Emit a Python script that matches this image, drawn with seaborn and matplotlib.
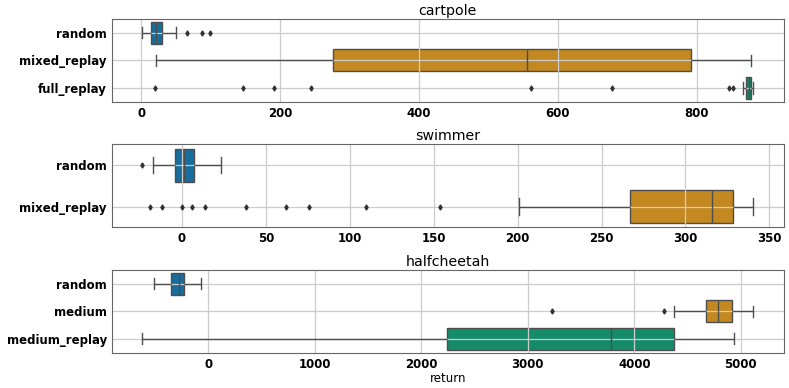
import numpy as np
import pandas as pd
import seaborn as sns
import matplotlib.pyplot as plt

# box statistics, one list per environment
cartpole_groups = ["random", "mixed_replay", "full_replay"]
cartpole_whislo = [1.4, 21.6, 867]
cartpole_q1 = [13.4, 276, 871]
cartpole_median = [21.6, 555, 875]
cartpole_q3 = [29.2, 792, 878]
cartpole_whishi = [50, 878, 882]
cartpole_fliers = [[66, 88, 99], [], [20, 147, 191, 244, 561, 678, 847, 852]]

swimmer_groups = ["random", "mixed_replay"]
swimmer_whislo = [-17.3, 201]
swimmer_q1 = [-4, 267]
swimmer_median = [1.4, 316]
swimmer_q3 = [7.5, 328.4]
swimmer_whishi = [23.4, 340.5]
swimmer_fliers = [[-23.6], [-18.9, -12.1, 0, 6.1, 13.9, 37.9, 62.3, 75.6, 109.5, 153.6]]

halfcheetah_groups = ["random", "medium", "medium_replay"]
halfcheetah_whislo = [-510, 4369, -618]
halfcheetah_q1 = [-347, 4669, 2238]
halfcheetah_median = [-275, 4788, 3785]
halfcheetah_q3 = [-228, 4916, 4376]
halfcheetah_whishi = [-63, 5119, 4935]
halfcheetah_fliers = [[], [3231, 4280], []]


def sample_from_stats(whislo, q1, med, q3, whishi, fliers):
    # build a sample whose quartiles / whiskers land on the given values
    lows = sorted([f for f in fliers if f < q1]) + [whislo]
    highs = [whishi] + sorted([f for f in fliers if f > q3])
    k = max(len(lows), len(highs)) + 1
    vals = lows + [q1] * (k - len(lows) + 1) + [med] * k + [q3] * (2 * k - len(highs)) + highs
    return vals


def make_frame(groups, whislo, q1, med, q3, whishi, fliers):
    rows = []
    for i, g in enumerate(groups):
        for v in sample_from_stats(whislo[i], q1[i], med[i], q3[i], whishi[i], fliers[i]):
            rows.append((g, v))
    return pd.DataFrame(rows, columns=["group", "return"])


envs = [
    ("cartpole", make_frame(cartpole_groups, cartpole_whislo, cartpole_q1, cartpole_median,
                            cartpole_q3, cartpole_whishi, cartpole_fliers), cartpole_groups),
    ("swimmer", make_frame(swimmer_groups, swimmer_whislo, swimmer_q1, swimmer_median,
                           swimmer_q3, swimmer_whishi, swimmer_fliers), swimmer_groups),
    ("halfcheetah", make_frame(halfcheetah_groups, halfcheetah_whislo, halfcheetah_q1, halfcheetah_median,
                               halfcheetah_q3, halfcheetah_whishi, halfcheetah_fliers), halfcheetah_groups),
]

palette = sns.color_palette("colorblind")

fig, axes = plt.subplots(3, 1, figsize=(7.89, 3.88), dpi=100)
fig.subplots_adjust(left=0.1416, right=0.9937, top=0.951, bottom=0.091, hspace=0.515)

for ax, (name, df, groups) in zip(axes, envs):
    sns.boxplot(data=df, x="return", y="group", hue="group", order=groups, hue_order=groups,
                palette=palette[:len(groups)], legend=False, orient="h", ax=ax,
                linecolor="0.3", linewidth=1.0,
                flierprops=dict(marker="d", markersize=2.6, markerfacecolor="0.2",
                                markeredgecolor="0.2"))
    # boxes under the grid, whiskers and fliers over it
    for p in ax.patches:
        p.set_zorder(1)
    ax.set_axisbelow("line")
    ax.grid(True, color="0.8", linewidth=0.9)
    ax.set_title(name, fontsize=10.2, pad=3)
    ax.set_ylabel("")
    ax.set_xlabel("")
    ax.tick_params(length=0, labelsize=8.5)
    for lab in ax.get_xticklabels() + ax.get_yticklabels():
        lab.set_fontweight("bold")
    for sp in ax.spines.values():
        sp.set_color("0.4")

axes[-1].set_xlabel("return", fontsize=8.5, labelpad=1)

plt.savefig("out.png")
